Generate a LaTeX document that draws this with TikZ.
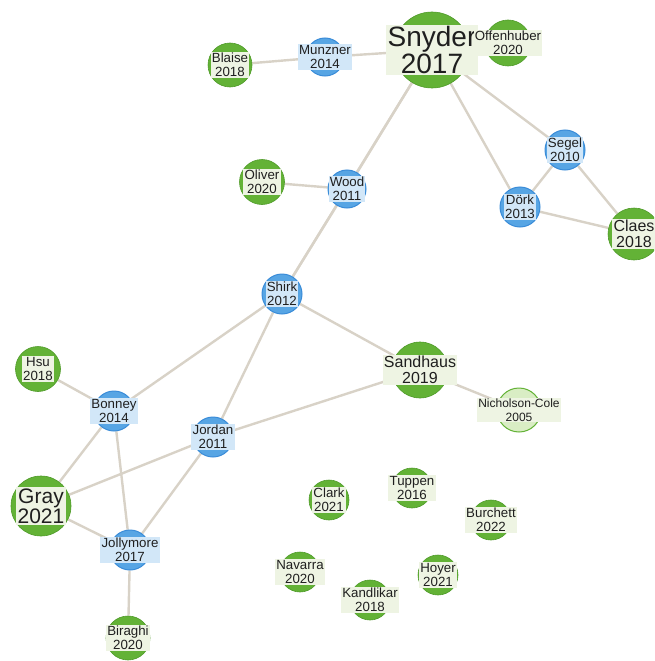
\documentclass[tikz,border=0pt]{standalone}
\usepackage{fontspec}
\setmainfont{Liberation Sans}
\usetikzlibrary{backgrounds}
\definecolor{leafgreen}{HTML}{63B236}
\definecolor{leafdark}{HTML}{4E9A28}
\definecolor{palegreen}{HTML}{D9EDC4}
\definecolor{greentag}{HTML}{EEF4E3}
\definecolor{skyblue}{HTML}{57A5E4}
\definecolor{skyrim}{HTML}{3A8CD8}
\definecolor{bluetag}{HTML}{D2E7F8}
\definecolor{linkgray}{HTML}{D8D2C7}

\begin{document}
\begin{tikzpicture}[x=1pt,y=-1pt,
  cite/.style={circle,inner sep=0pt,minimum size=#1},
  newer/.style={cite=#1,fill=leafgreen,draw=leafdark,line width=.6pt},
  older/.style={cite=#1,fill=skyblue,draw=skyrim,line width=1pt},
  faded/.style={cite=#1,fill=palegreen,draw=leafgreen,line width=1pt},
  tag/.style={inner sep=1.2pt,align=center,text=black!88,
    font=\fontsize{13.3}{13.8}\selectfont},
  gtag/.style={tag,fill=greentag},
  btag/.style={tag,fill=bluetag},
  link/.style={draw=linkgray,line width=2.4pt}]
  \path[use as bounding box,clip] (0,0) rectangle (654,661);

  % cited papers, top
  \node[newer=44,label={[gtag]center:Blaise\\2018}] (blaise) at (230,65) {};
  \node[older=38,label={[btag]center:Munzner\\2014}] (munzner) at (325,57) {};
  \node[newer=76,label={[gtag,font=\fontsize{28}{25}\selectfont]center:Snyder\\2017}] (snyder) at (432,50) {};
  \node[newer=46,label={[gtag]center:Offenhuber\\2020}] (offenhuber) at (508,43) {};
  \node[older=40,label={[btag]center:Segel\\2010}] (segel) at (565,150) {};
  \node[older=40,label={[btag]center:Dörk\\2013}] (dork) at (520,207) {};
  \node[newer=52,label={[gtag,font=\fontsize{16}{16}\selectfont]center:Claes\\2018}] (claes) at (634,234) {};
  \node[newer=45,label={[gtag]center:Oliver\\2020}] (oliver) at (262,182) {};
  \node[older=38,label={[btag]center:Wood\\2011}] (wood) at (347,189) {};
  \node[older=40,label={[btag]center:Shirk\\2012}] (shirk) at (282,294) {};

  % middle
  \node[newer=45,label={[gtag]center:Hsu\\2018}] (hsu) at (38,369) {};
  \node[older=40,label={[btag]center:Bonney\\2014}] (bonney) at (114,411) {};
  \node[older=40,label={[btag]center:Jordan\\2011}] (jordan) at (213,437) {};
  \node[newer=56,label={[gtag,font=\fontsize{16}{16.5}\selectfont]center:Sandhaus\\2019}] (sandhaus) at (420,370) {};
  \node[faded=44,label={[gtag,font=\fontsize{12}{13.5}\selectfont]center:Nicholson-Cole\\2005}] (nicholson) at (519,410) {};

  % bottom
  \node[newer=60,label={[gtag,font=\fontsize{21}{20}\selectfont]center:Gray\\2021}] (gray) at (41,506) {};
  \node[older=40,label={[btag]center:Jollymore\\2017}] (jollymore) at (130,550) {};
  \node[newer=44,label={[gtag]center:Biraghi\\2020}] (biraghi) at (128,638) {};
  \node[newer=40,label={[gtag]center:Clark\\2021}] (clark) at (329,500) {};
  \node[newer=40,label={[gtag]center:Tuppen\\2016}] (tuppen) at (412,488) {};
  \node[newer=40,label={[gtag]center:Burchett\\2022}] (burchett) at (491,520) {};
  \node[newer=40,label={[gtag]center:Navarra\\2020}] (navarra) at (300,572) {};
  \node[newer=40,label={[gtag]center:Kandlikar\\2018}] (kandlikar) at (370,600) {};
  \node[newer=40,label={[gtag]center:Hoyer\\2021}] (hoyer) at (438,575) {};

  \begin{scope}[on background layer]
    \path[link]
      (blaise) edge (munzner)
      (munzner) edge (snyder)
      (snyder) edge (wood)
      (snyder) edge (shirk)
      (wood) edge (shirk)
      (snyder) edge (segel)
      (snyder) edge (dork)
      (segel) edge (dork)
      (segel) edge (claes)
      (dork) edge (claes)
      (oliver) edge (wood)
      (shirk) edge (bonney)
      (shirk) edge (jordan)
      (shirk) edge (sandhaus)
      (sandhaus) edge (nicholson)
      (sandhaus) edge (jordan)
      (hsu) edge (bonney)
      (bonney) edge (gray)
      (bonney) edge (jollymore)
      (jordan) edge (gray)
      (jordan) edge (jollymore)
      (gray) edge (jollymore)
      (jollymore) edge (biraghi);
  \end{scope}
\end{tikzpicture}
\end{document}
